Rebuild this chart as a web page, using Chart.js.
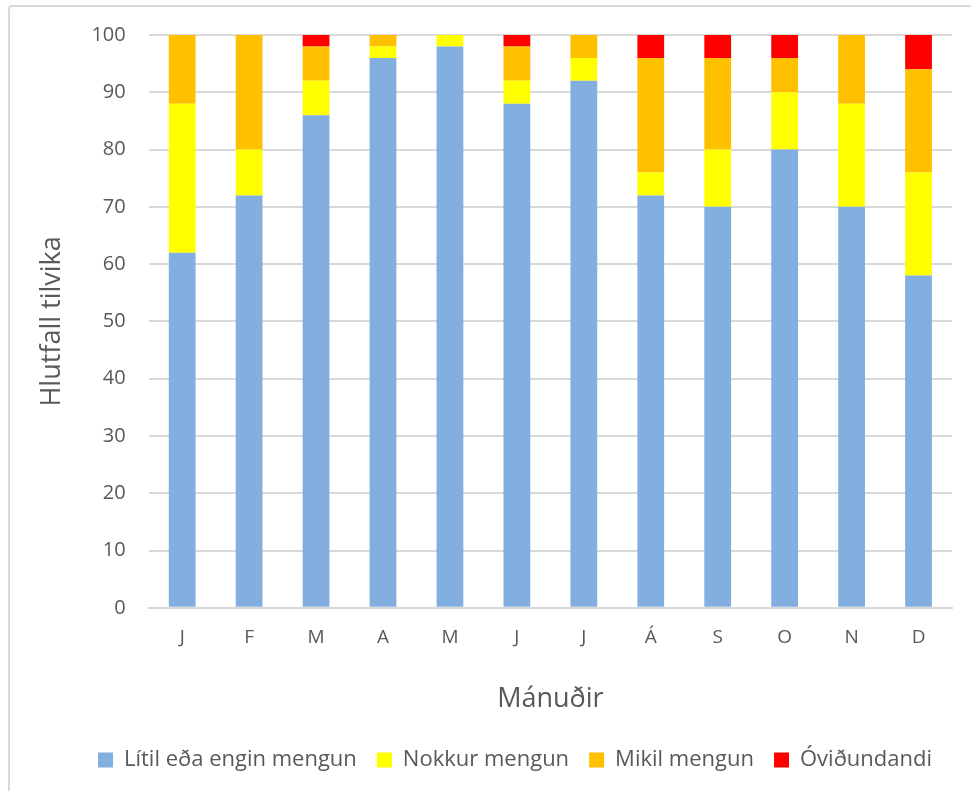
<!DOCTYPE html>
<html>
<head>
<meta charset="utf-8">
<script src="https://cdn.jsdelivr.net/npm/chart.js@4"></script>
<style>
  html, body { margin: 0; padding: 0; background: #fff; overflow: hidden; }
  #wrap { position: relative; width: 971px; height: 791px; overflow: hidden; }
  #frame { position: absolute; left: 8px; top: 5px; width: 1000px; height: 1000px; border: 2px solid #d9d9d9; border-radius: 4px; }
  canvas { position: absolute; left: 0; top: 0; }
</style>
</head>
<body>
<div id="wrap">
  <div id="frame"></div>
  <canvas id="chart" width="971" height="791"></canvas>
</div>
<script>
const months = ["J", "F", "M", "A", "M", "J", "J", "Á", "S", "O", "N", "D"];
const litil = [62, 72, 86, 96, 98, 88, 92, 72, 70, 80, 70, 58];
const nokkur = [26, 8, 6, 2, 2, 4, 4, 4, 10, 10, 18, 18];
const mikil = [12, 20, 6, 2, 0, 6, 4, 20, 16, 6, 12, 18];
const ovidundandi = [0, 0, 2, 0, 0, 2, 0, 4, 4, 4, 0, 6];
const yTicks = [0, 10, 20, 30, 40, 50, 60, 70, 80, 90, 100];

const textColor = "#595959";
const gridColor = "#d9d9d9";
const fontFamily = "'Open Sans', 'Liberation Sans', sans-serif";

const ctx = document.getElementById("chart").getContext("2d");

new Chart(ctx, {
  type: "bar",
  data: {
    labels: months,
    datasets: [
      { label: "Lítil eða engin mengun", data: litil, backgroundColor: "#82aee0" },
      { label: "Nokkur mengun", data: nokkur, backgroundColor: "#ffff00" },
      { label: "Mikil mengun", data: mikil, backgroundColor: "#ffc000" },
      { label: "Óviðundandi", data: ovidundandi, backgroundColor: "#ff0000" },
    ],
  },
  options: {
    responsive: false,
    animation: false,
    layout: { padding: { top: 22, right: 19, bottom: 10, left: 16 } },
    datasets: { bar: { barPercentage: 0.4, categoryPercentage: 1.0 } },
    scales: {
      x: {
        stacked: true,
        grid: { display: false, drawTicks: false },
        border: { display: true, color: gridColor, width: 2 },
        ticks: { color: textColor, font: { family: fontFamily, size: 19 }, padding: 18 },
        title: {
          display: true,
          text: "Mánuðir",
          color: textColor,
          font: { family: fontFamily, size: 27 },
          padding: { top: 17, bottom: 13 },
        },
      },
      y: {
        stacked: true,
        min: 0,
        max: 100,
        afterBuildTicks: (axis) => {
          axis.ticks = yTicks.map((v) => ({ value: v }));
        },
        grid: { color: gridColor, lineWidth: 2, drawTicks: false },
        border: { display: false },
        ticks: { color: textColor, font: { family: fontFamily, size: 20 }, padding: 23 },
        title: {
          display: true,
          text: "Hlutfall tilvika",
          color: textColor,
          font: { family: fontFamily, size: 27 },
          padding: { top: 20, bottom: 0 },
        },
      },
    },
    plugins: {
      legend: {
        position: "bottom",
        align: "end",
        labels: {
          color: textColor,
          font: { family: fontFamily, size: 22 },
          boxWidth: 15,
          boxHeight: 15,
          padding: 20,
        },
      },
      tooltip: { enabled: false },
    },
  },
});
</script>
</body>
</html>
